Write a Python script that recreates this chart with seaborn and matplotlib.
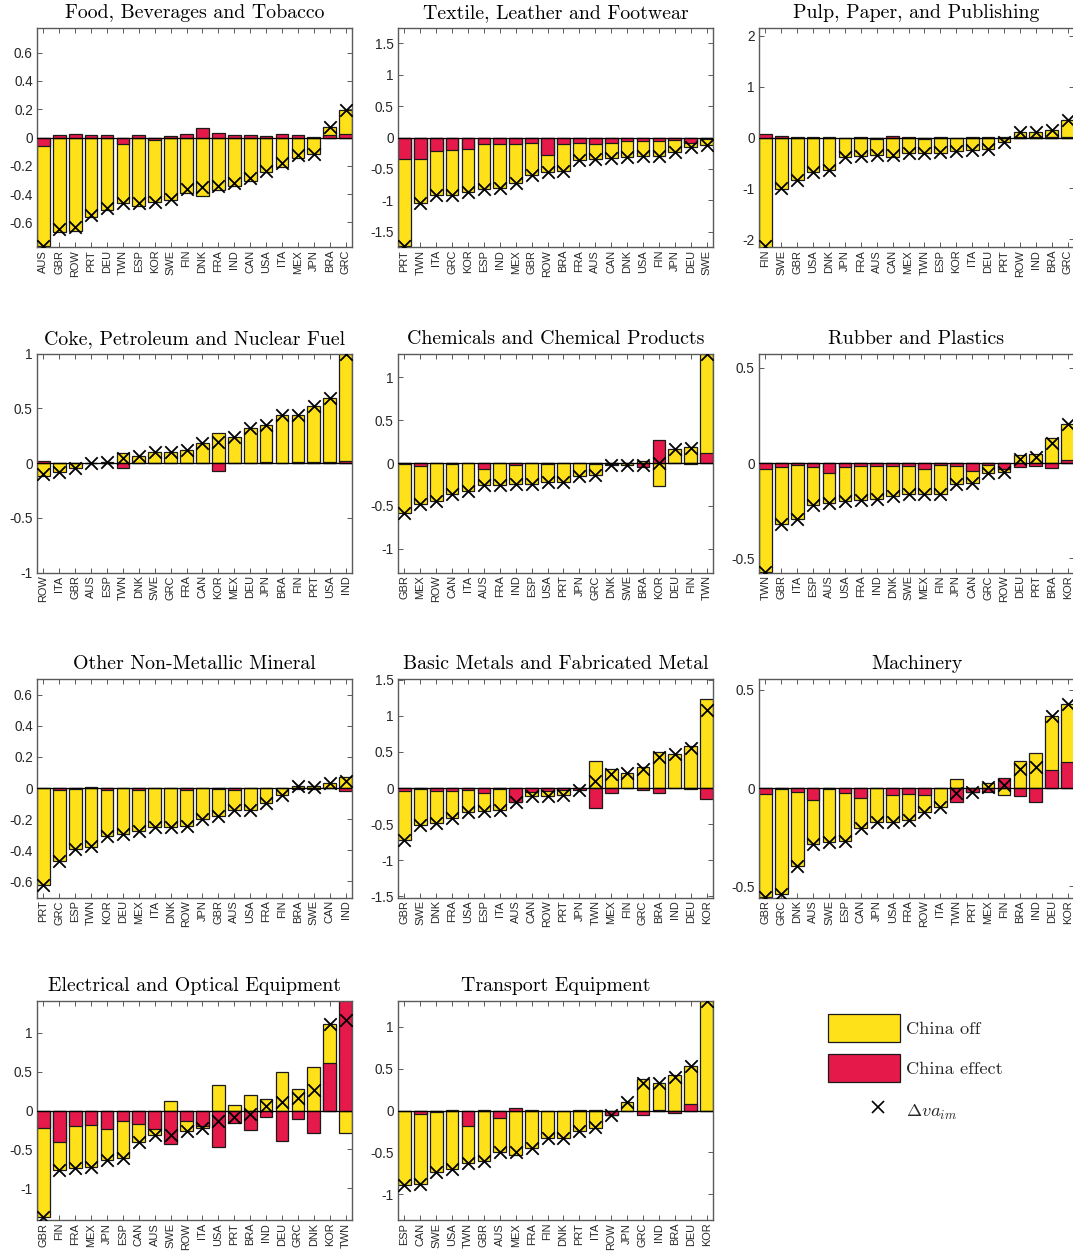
import numpy as np
import pandas as pd
import matplotlib
matplotlib.use("Agg")
import matplotlib.pyplot as plt
import seaborn as sns
from matplotlib.patches import Patch
from matplotlib.lines import Line2D
from matplotlib.legend_handler import HandlerLine2D

# ---------------------------------------------------------------- data
food_countries = ["AUS", "GBR", "ROW", "PRT", "DEU", "TWN", "ESP", "KOR", "SWE", "FIN",
                  "DNK", "FRA", "IND", "CAN", "USA", "ITA", "MEX", "JPN", "BRA", "GRC"]
food_effect = [-0.06, 0.02, 0.025, 0.02, 0.015, -0.045, 0.02, -0.02, 0.01, 0.025,
               0.068, 0.03, 0.02, 0.017, 0.01, 0.028, 0.02, 0.005, 0.02, 0.025]
food_off = [-0.705, -0.67, -0.66, -0.565, -0.515, -0.42, -0.485, -0.435, -0.445, -0.39,
            -0.415, -0.37, -0.34, -0.305, -0.245, -0.21, -0.145, -0.12, 0.055, 0.17]

textile_countries = ["PRT", "TWN", "ITA", "GRC", "KOR", "ESP", "IND", "MEX", "GBR", "ROW",
                     "BRA", "FRA", "AUS", "CAN", "DNK", "USA", "FIN", "JPN", "DEU", "SWE"]
textile_effect = [-0.335, -0.335, -0.22, -0.205, -0.18, -0.105, -0.1, -0.105, -0.09, -0.285,
                  -0.105, -0.09, -0.105, -0.09, -0.063, -0.063, -0.063, -0.047, -0.09, -0.026]
textile_off = [-1.395, -0.70, -0.70, -0.715, -0.69, -0.72, -0.71, -0.615, -0.5, -0.26,
               -0.43, -0.27, -0.235, -0.235, -0.252, -0.227, -0.23, -0.19, -0.068, -0.1]

pulp_countries = ["FIN", "SWE", "GBR", "USA", "DNK", "JPN", "FRA", "AUS", "CAN", "MEX",
                  "TWN", "ESP", "KOR", "ITA", "DEU", "PRT", "ROW", "IND", "BRA", "GRC"]
pulp_effect = [0.06, 0.02, 0.003, 0.01, 0.003, -0.005, 0.002, -0.03, 0.03, 0.002,
               -0.02, 0.002, -0.01, 0.002, 0.002, 0.015, 0.003, 0.003, 0.005, 0.005]
pulp_off = [-2.2, -1.02, -0.83, -0.68, -0.635, -0.38, -0.36, -0.32, -0.38, -0.305,
            -0.275, -0.295, -0.25, -0.25, -0.235, -0.095, 0.1, 0.11, 0.15, 0.345]

coke_countries = ["ROW", "ITA", "GBR", "AUS", "ESP", "TWN", "DNK", "SWE", "GRC", "FRA",
                  "CAN", "KOR", "MEX", "DEU", "JPN", "BRA", "FIN", "PRT", "USA", "IND"]
coke_effect = [0.02, 0.002, 0.002, 0.0, 0.0, -0.045, 0.002, 0.0, 0.002, 0.002,
               0.002, -0.077, 0.003, 0.003, 0.01, 0.003, 0.008, 0.005, 0.01, 0.02]
coke_off = [-0.12, -0.08, -0.05, 0.004, 0.006, 0.093, 0.063, 0.098, 0.097, 0.115,
            0.178, 0.272, 0.232, 0.315, 0.335, 0.432, 0.426, 0.513, 0.585, 0.98]

chem_countries = ["GBR", "MEX", "ROW", "CAN", "ITA", "AUS", "FRA", "IND", "ESP", "USA",
                  "PRT", "JPN", "GRC", "DNK", "SWE", "BRA", "KOR", "DEU", "FIN", "TWN"]
chem_effect = [-0.01, -0.035, -0.003, -0.008, -0.003, -0.075, -0.003, -0.028, -0.003, -0.01,
               -0.003, -0.002, -0.01, -0.012, -0.002, -0.045, 0.265, 0.002, -0.01, 0.12]
chem_off = [-0.575, -0.45, -0.447, -0.352, -0.33, -0.188, -0.26, -0.215, -0.24, -0.214,
            -0.221, -0.15, -0.135, -0.015, -0.025, 0.025, -0.27, 0.167, 0.19, 1.155]

rubber_countries = ["TWN", "GBR", "ITA", "ESP", "AUS", "USA", "FRA", "IND", "DNK", "SWE",
                    "MEX", "FIN", "JPN", "CAN", "GRC", "ROW", "DEU", "PRT", "BRA", "KOR"]
rubber_effect = [-0.033, -0.02, -0.012, -0.019, -0.05, -0.02, -0.016, -0.018, -0.016, -0.017,
                 -0.033, -0.012, -0.014, -0.042, -0.01, -0.03, -0.021, -0.015, -0.025, 0.018]
rubber_off = [-0.54, -0.3, -0.28, -0.2, -0.158, -0.18, -0.177, -0.172, -0.158, -0.148,
              -0.132, -0.153, -0.095, -0.062, -0.041, -0.017, 0.04, 0.045, 0.132, 0.186]

mineral_countries = ["PRT", "GRC", "ESP", "TWN", "KOR", "DEU", "MEX", "ITA", "DNK", "ROW",
                     "JPN", "GBR", "AUS", "USA", "FRA", "FIN", "BRA", "SWE", "CAN", "IND"]
mineral_effect = [-0.002, -0.01, -0.005, 0.005, -0.011, -0.003, -0.01, -0.002, -0.002, -0.015,
                  -0.002, -0.005, -0.015, -0.002, -0.002, -0.001, -0.005, -0.005, 0.002, -0.022]
mineral_off = [-0.625, -0.46, -0.39, -0.38, -0.3, -0.29, -0.265, -0.247, -0.247, -0.228,
               -0.198, -0.173, -0.126, -0.139, -0.095, -0.047, 0.015, 0.012, 0.031, 0.068]

metal_countries = ["GBR", "SWE", "DNK", "FRA", "USA", "ESP", "ITA", "AUS", "CAN", "ROW",
                   "PRT", "JPN", "TWN", "MEX", "FIN", "GRC", "BRA", "IND", "DEU", "KOR"]
metal_effect = [-0.037, -0.014, -0.037, -0.047, -0.028, -0.065, -0.02, -0.195, -0.056, -0.037,
                -0.03, -0.03, -0.28, -0.07, -0.005, -0.028, -0.075, -0.005, -0.018, -0.155]
metal_off = [-0.69, -0.5, -0.443, -0.373, -0.307, -0.26, -0.28, -0.005, -0.056, -0.07,
             -0.072, 0.005, 0.375, 0.258, 0.21, 0.289, 0.505, 0.475, 0.578, 1.235]

machinery_countries = ["GBR", "GRC", "DNK", "AUS", "SWE", "ESP", "CAN", "JPN", "USA", "FRA",
                       "ROW", "ITA", "TWN", "PRT", "MEX", "FIN", "BRA", "IND", "DEU", "KOR"]
machinery_effect = [-0.033, -0.007, -0.019, -0.059, -0.003, -0.025, -0.05, -0.002, -0.034, -0.031,
                    -0.034, -0.002, -0.073, -0.02, -0.02, 0.051, -0.04, -0.071, 0.09, 0.13]
machinery_off = [-0.522, -0.53, -0.376, -0.226, -0.273, -0.243, -0.153, -0.173, -0.141, -0.13,
                 -0.088, -0.095, 0.046, -0.001, 0.027, -0.037, 0.136, 0.176, 0.275, 0.295]

electrical_countries = ["GBR", "FIN", "FRA", "MEX", "JPN", "ESP", "CAN", "AUS", "SWE", "ROW",
                        "ITA", "USA", "PRT", "BRA", "IND", "DEU", "GRC", "DNK", "KOR", "TWN"]
electrical_effect = [-0.224, -0.41, -0.195, -0.185, -0.237, -0.138, -0.172, -0.237, -0.435, -0.129,
                     -0.195, -0.465, -0.155, -0.25, -0.085, -0.39, -0.112, -0.295, 0.615, 1.46]
electrical_off = [-1.145, -0.355, -0.545, -0.545, -0.395, -0.477, -0.228, -0.077, 0.125, -0.135,
                  -0.03, 0.325, 0.068, 0.206, 0.145, 0.495, 0.271, 0.565, 0.495, -0.29]

transport_countries = ["ESP", "CAN", "SWE", "USA", "TWN", "GBR", "AUS", "MEX", "FRA", "FIN",
                       "DNK", "PRT", "ITA", "ROW", "JPN", "GRC", "IND", "BRA", "DEU", "KOR"]
transport_effect = [-0.002, -0.045, -0.015, 0.01, -0.18, 0.003, -0.088, 0.03, 0.004, -0.002,
                    -0.003, 0.005, 0.005, -0.05, 0.0, -0.05, 0.003, -0.025, 0.072, -0.005]
transport_off = [-0.885, -0.838, -0.72, -0.705, -0.445, -0.61, -0.414, -0.53, -0.45, -0.328,
                 -0.327, -0.25, -0.205, -0.003, 0.105, 0.375, 0.325, 0.42, 0.455, 1.315]

# title, countries, China off, China effect, y half-range, y ticks
panels = [
    ("Food, Beverages and Tobacco", food_countries, food_off, food_effect,
     0.775, [-0.6, -0.4, -0.2, 0, 0.2, 0.4, 0.6]),
    ("Textile, Leather and Footwear", textile_countries, textile_off, textile_effect,
     1.74, [-1.5, -1, -0.5, 0, 0.5, 1, 1.5]),
    ("Pulp, Paper, and Publishing", pulp_countries, pulp_off, pulp_effect,
     2.15, [-2, -1, 0, 1, 2]),
    ("Coke, Petroleum and Nuclear Fuel", coke_countries, coke_off, coke_effect,
     1.0, [-1, -0.5, 0, 0.5, 1]),
    ("Chemicals and Chemical Products", chem_countries, chem_off, chem_effect,
     1.28, [-1, -0.5, 0, 0.5, 1]),
    ("Rubber and Plastics", rubber_countries, rubber_off, rubber_effect,
     0.574, [-0.5, 0, 0.5]),
    ("Other Non-Metallic Mineral", mineral_countries, mineral_off, mineral_effect,
     0.705, [-0.6, -0.4, -0.2, 0, 0.2, 0.4, 0.6]),
    ("Basic Metals and Fabricated Metal", metal_countries, metal_off, metal_effect,
     1.52, [-1.5, -1, -0.5, 0, 0.5, 1, 1.5]),
    ("Machinery", machinery_countries, machinery_off, machinery_effect,
     0.556, [-0.5, 0, 0.5]),
    ("Electrical and Optical Equipment", electrical_countries, electrical_off, electrical_effect,
     1.41, [-1, -0.5, 0, 0.5, 1]),
    ("Transport Equipment", transport_countries, transport_off, transport_effect,
     1.31, [-1, -0.5, 0, 0.5, 1]),
]

# ---------------------------------------------------------------- style
YELLOW = "#FFE119"
RED = "#E6194B"
EDGE = "#1a1a1a"
AXIS = "#5a5a5a"
TEXT = "#262626"

sns.set_theme(style="white")
plt.rcParams["font.family"] = ["Liberation Sans", "DejaVu Sans"]
plt.rcParams["mathtext.fontset"] = "cm"

W, H = 1073, 1253
fig = plt.figure(figsize=(W / 100, H / 100), dpi=100)

col_left = [37, 398, 759]
row_top = [28, 353.5, 678.5, 1001]
ax_w, ax_h = 315, 219


def draw_panel(ax, title, countries, off, effect, lim, ticks):
    off = np.asarray(off, dtype=float)
    effect = np.asarray(effect, dtype=float)
    total = off + effect
    # stacked bars: the China effect sits next to zero; China off is stacked on it
    # when both share a sign, otherwise it starts from zero on the other side
    same_sign = np.sign(off) == np.sign(effect)
    off_top = np.where(same_sign, total, off)
    df = pd.DataFrame({"country": countries, "off_top": off_top,
                       "effect": effect, "total": total})

    sns.barplot(data=df, x="country", y="off_top", order=countries, color=YELLOW,
                saturation=1, edgecolor=EDGE, linewidth=0.9, width=0.8,
                errorbar=None, ax=ax, zorder=2)
    sns.barplot(data=df, x="country", y="effect", order=countries, color=RED,
                saturation=1, edgecolor=EDGE, linewidth=0.9, width=0.8,
                errorbar=None, ax=ax, zorder=2)
    ax.axhline(0, color="black", lw=0.9, zorder=3)
    sns.scatterplot(x=np.arange(len(countries)), y=df["total"].to_numpy(), marker="x",
                    color="black", s=80, linewidth=1.3, ax=ax, zorder=4)

    ax.set_xlim(-0.4, len(countries) - 0.6)
    ax.set_ylim(-lim, lim)
    ax.set_xticks(np.arange(len(countries)))
    ax.set_xticklabels(countries, rotation=90, fontsize=7.9, color=TEXT)
    ax.set_yticks(ticks)
    ax.set_yticklabels([f"{t:g}" for t in ticks], fontsize=9.8, color=TEXT)
    ax.set_xlabel("")
    ax.set_ylabel("")
    ax.tick_params(axis="both", direction="in", top=True, right=True, bottom=True,
                   left=True, length=3.5, width=0.7, color=AXIS)
    ax.tick_params(axis="x", pad=2)
    ax.tick_params(axis="y", pad=3)
    for sp in ax.spines.values():
        sp.set_visible(True)
        sp.set_color(AXIS)
        sp.set_linewidth(1.0)
    ax.grid(False)
    ax.set_title(title, family="cmr10", fontsize=14.3, color="black", pad=7)


for i, (title, countries, off, effect, lim, ticks) in enumerate(panels):
    r, c = divmod(i, 3)
    left = col_left[c] / W
    bottom = 1 - (row_top[r] + ax_h) / H
    ax = fig.add_axes([left, bottom, ax_w / W, ax_h / H])
    draw_panel(ax, title, countries, off, effect, lim, ticks)


class ShiftedMarker(HandlerLine2D):
    """Single legend marker placed right of the handle centre."""

    def get_xdata(self, legend, xdescent, ydescent, width, height, fontsize):
        xdata, xdata_marker = super().get_xdata(legend, xdescent, ydescent,
                                                width, height, fontsize)
        shift = 0.2 * width
        return np.asarray(xdata) + shift, np.asarray(xdata_marker) + shift


legend_kw = dict(loc="upper left", frameon=False, borderpad=0, borderaxespad=0,
                 prop={"family": "cmr10", "size": 13.2}, numpoints=1,
                 handlelength=3.9, handleheight=2.0, labelspacing=0.62,
                 handletextpad=0.35)

bar_handles = [Patch(facecolor=YELLOW, edgecolor=EDGE, linewidth=0.9),
               Patch(facecolor=RED, edgecolor=EDGE, linewidth=0.9)]
fig.legend(bar_handles, ["China off", "China effect"],
           bbox_to_anchor=(828 / W, 1 - 1014 / H), **legend_kw)

cross = Line2D([], [], marker="x", linestyle="none", color="black",
               markersize=9, markeredgewidth=1.2)
fig.legend([cross], [r"$\Delta va_{im}$"], bbox_to_anchor=(828 / W, 1 - 1097 / H),
           handler_map={cross: ShiftedMarker(numpoints=1)}, **legend_kw)

fig.savefig("out.png", dpi=100)
